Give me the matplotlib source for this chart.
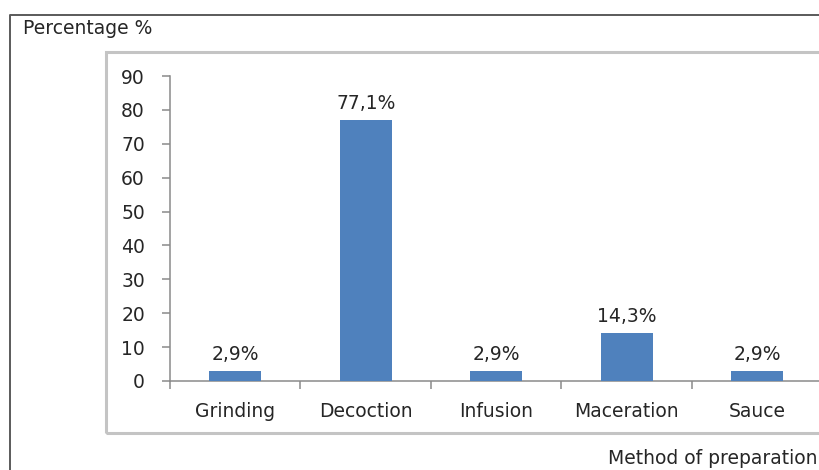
import matplotlib
matplotlib.use("Agg")
import matplotlib.pyplot as plt
from matplotlib.lines import Line2D
from matplotlib.patches import Rectangle

categories = ["Grinding", "Decoction", "Infusion", "Maceration", "Sauce"]
values = [2.9, 77.1, 2.9, 14.3, 2.9]
value_labels = ["2,9%", "77,1%", "2,9%", "14,3%", "2,9%"]
yticks = [0, 10, 20, 30, 40, 50, 60, 70, 80, 90]

plt.rcParams["font.family"] = ["DejaVu Sans"]
FS = 13.5
TXT = "#262626"
W, H = 820, 470
fig = plt.figure(figsize=(W / 100, H / 100), dpi=100)

def fx(px):
    return px / W

def fy(py):
    return 1 - py / H

# outer chart border (top and left edges)
fig.add_artist(Line2D([fx(10), fx(10), fx(822)], [fy(472), fy(14.5), fy(14.5)],
                      color="#5a5a5a", lw=1.4, transform=fig.transFigure))
# plot-area frame
fig.add_artist(Rectangle((fx(106), fy(433)), fx(730), fy(52) - fy(433),
                         fill=False, edgecolor="#c4c4c4", lw=2.2,
                         transform=fig.transFigure))

x0, x1 = 170, 822.5
ytop, ybot = 76, 381
ax = fig.add_axes([fx(x0), fy(ybot), fx(x1) - fx(x0), fy(ytop) - fy(ybot)])
ax.patch.set_alpha(0)

pos = list(range(len(categories)))
ax.bar(pos, values, width=0.4, color="#4f81bd", zorder=3)
for p, v, lab in zip(pos, values, value_labels):
    ax.annotate(lab, (p, v), xytext=(0, 5), textcoords="offset points",
                ha="center", va="bottom", fontsize=FS, color=TXT)

ax.set_xlim(-0.5, len(categories) - 0.5)
ax.set_ylim(0, 90)
ax.set_yticks(yticks)
ax.set_xticks(pos)
ax.set_xticklabels(categories)
ax.set_xticks([p - 0.5 for p in range(len(categories) + 1)], minor=True)

for s in ["top", "right"]:
    ax.spines[s].set_visible(False)
for s in ["left", "bottom"]:
    ax.spines[s].set_color("#8a8a8a")
    ax.spines[s].set_linewidth(1.1)

ax.tick_params(axis="y", direction="out", length=6, width=1.1, color="#8a8a8a",
               labelsize=FS, labelcolor=TXT, pad=12)
ax.tick_params(axis="x", which="major", length=0, labelsize=FS,
               labelcolor=TXT, pad=15)
ax.tick_params(axis="x", which="minor", direction="out", length=6, width=1.1,
               color="#8a8a8a")

fig.text(fx(23), fy(28), "Percentage %", fontsize=FS, color=TXT,
         ha="left", va="center")
fig.text(fx(818), fy(458), "Method of preparation", fontsize=FS,
         color=TXT, ha="right", va="center")

fig.savefig("out.png", dpi=100)
